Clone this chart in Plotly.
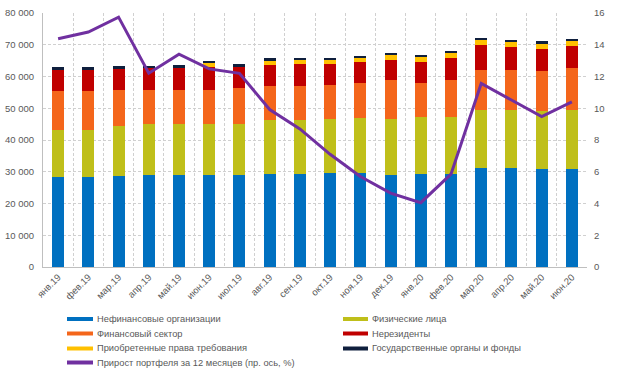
import plotly.graph_objects as go

months = ["янв.19", "фев.19", "мар.19", "апр.19", "май.19", "июн.19", "июл.19", "авг.19", "сен.19",
          "окт.19", "ноя.19", "дек.19", "янв.20", "фев.20", "мар.20", "апр.20", "май.20", "июн.20"]

nonfin = [28400, 28300, 28600, 28900, 28900, 28900, 29100, 29400, 29200, 29700, 29700, 29100, 29400, 29400, 31100, 31200, 31000, 31000]
persons = [14800, 15000, 15700, 16100, 16150, 16100, 15950, 16800, 17100, 17000, 17340, 17600, 17850, 17950, 18350, 18250, 18000, 18450]
finsector = [12300, 12150, 11550, 10900, 10850, 10900, 11270, 10860, 10760, 10540, 10850, 12300, 10860, 11600, 12650, 12650, 12600, 13180]
nonres = [6500, 6700, 6600, 6800, 6800, 7000, 6830, 6720, 6940, 6740, 6630, 6200, 6410, 6820, 7930, 7300, 7150, 7070]
claims = [0, 0, 0, 0, 0, 1400, 0, 1260, 1260, 1260, 1480, 1570, 1470, 1690, 1480, 1480, 1780, 1390]
govt = [850, 850, 850, 750, 850, 700, 650, 730, 630, 630, 520, 630, 630, 630, 530, 630, 590, 630]
growth = [14.38, 14.8, 15.74, 12.21, 13.41, 12.48, 12.2, 9.92, 8.7, 7.1, 5.7, 4.65, 4.05, 5.85, 11.56, 10.53, 9.48, 10.4]

names = ["Нефинансовые организации", "Физические лица", "Финансовый сектор", "Нерезиденты",
         "Приобретенные права требования", "Государственные органы и фонды",
         "Прирост портфеля за 12 месяцев (пр. ось, %)"]
colors = ["#0070C0", "#BFBF1A", "#F4661B", "#C00000", "#FFC000", "#0F1F3D", "#7030A0"]
series = [nonfin, persons, finsector, nonres, claims, govt]

W, H = 620, 373
L, R, T, B = 43, 33, 13, 106
font = dict(family="Liberation Sans, Arial, sans-serif", size=9.5, color="#595959")
lfont = dict(family="Liberation Sans, Arial, sans-serif", size=9.3, color="#595959")

fig = go.Figure()
for name, vals, col in zip(names[:6], series, colors[:6]):
    fig.add_trace(go.Bar(x=months, y=vals, name=name, marker=dict(color=col, line=dict(width=0)),
                         width=0.4, showlegend=False))
fig.add_trace(go.Scatter(x=months, y=growth, name=names[6], yaxis="y2", mode="lines",
                         line=dict(color=colors[6], width=3), showlegend=False))

# manual legend (two columns)
pw = W - L - R
ph = H - T - B
def px_x(p):
    return (p - L) / pw
def px_y(p):
    return (H - B - p) / ph

rows = [319, 333.5, 348.5, 362.5]
cols = [(67, 93, 96), (343, 368, 371)]
shapes = []
annotations = []
for i, (name, col) in enumerate(zip(names, colors)):
    r, c = divmod(i, 2)
    x0, x1, xt = cols[c]
    y = px_y(rows[r])
    shapes.append(dict(type="line", xref="paper", yref="paper", x0=px_x(x0), x1=px_x(x1), y0=y, y1=y,
                       line=dict(color=col, width=4)))
    annotations.append(dict(xref="paper", yref="paper", x=px_x(xt), y=y, text=name, showarrow=False,
                            xanchor="left", yanchor="middle", font=lfont, borderpad=0))

grid = dict(showgrid=True, gridcolor="#D0D0D0", griddash="3px,2px", gridwidth=1)
fig.update_layout(
    width=W, height=H, margin=dict(l=L, r=R, t=T, b=B, autoexpand=False),
    barmode="stack", bargap=0.6,
    paper_bgcolor="white", plot_bgcolor="white",
    font=font, separators=", ",
    showlegend=False,
    shapes=shapes, annotations=annotations,
    xaxis=dict(type="category", tickson="boundaries", tickangle=-45, ticks="", showline=True,
               linecolor="#BFBFBF", tickfont=font, automargin=False, **grid),
    yaxis=dict(range=[0, 80000], dtick=10000, tickformat=",d", showline=True, linecolor="#BFBFBF",
               ticklabelstandoff=6, tickfont=font, zeroline=False, automargin=False, **grid),
    yaxis2=dict(range=[0, 16], dtick=2, overlaying="y", side="right", showgrid=False, zeroline=False,
                ticklabelstandoff=6, tickfont=font, automargin=False),
)
fig.write_html("out.html", config={"displayModeBar": False},
               post_script="document.body.style.margin='0';document.body.style.overflow='hidden';")
